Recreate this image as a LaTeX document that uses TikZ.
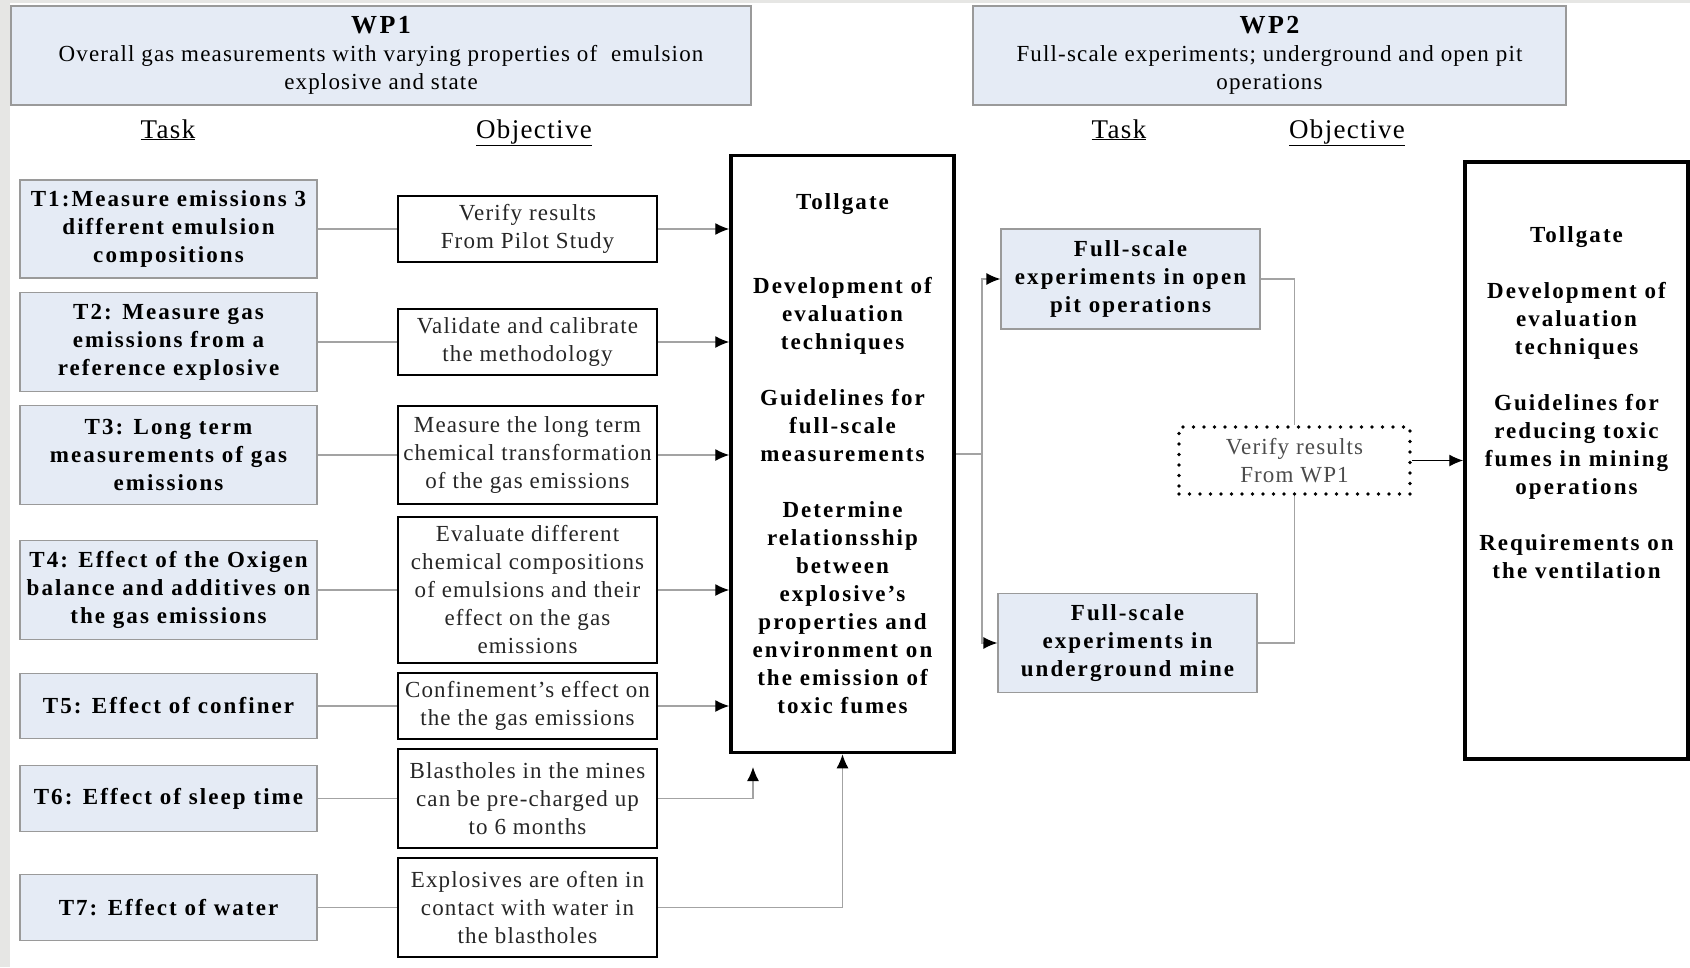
\documentclass[tikz,border=0pt]{standalone}
\usepackage{fontspec}
\setmainfont{Liberation Serif}[LetterSpace=5, BoldFeatures={LetterSpace=9}]
\usetikzlibrary{arrows.meta}

\definecolor{pagegray}{HTML}{E6E6E4}
\definecolor{boxfill}{HTML}{E5EBF5}
\definecolor{boxline}{HTML}{9A9A9A}
\definecolor{linkgray}{HTML}{A3A3A3}

\tikzset{
    base/.style={align=center, inner sep=0pt, font=\fontsize{23}{28}\selectfont},
    bluebox/.style={base, draw=boxline, fill=boxfill, line width=1.3pt},
    wphead/.style={bluebox, minimum width=#1, minimum height=99pt},
    taskbox/.style={bluebox, minimum width=297pt, font=\fontsize{23}{28}\selectfont\bfseries},
    fullbox/.style={bluebox, minimum width=259pt, minimum height=100pt, font=\fontsize{23}{28}\selectfont\bfseries},
    objbox/.style={base, draw, line width=2.4pt, minimum width=259pt, text=black!85},
    gatebox/.style={base, draw, line width=3.5pt, minimum width=223pt, minimum height=597pt,
        font=\fontsize{23}{28}\selectfont\bfseries},
    colhead/.style={base, anchor=base, font=\fontsize{27}{28}\selectfont},
    link/.style={draw=linkgray, line width=1.3pt},
    feed/.style={link, -{Latex[length=14pt, width=12pt, color=black]}},
}

\begin{document}
\begin{tikzpicture}[x=1pt, y=-1pt]

    \useasboundingbox (0,0) rectangle (1690,967);
    \fill[pagegray] (0,0) rectangle (1690,967);
    \fill[white] (10,3) rectangle (1690,967);

    % work packages
    \node[wphead=740pt] (wpone) at (381,55.5)
        {{\fontsize{26}{28}\selectfont\bfseries WP1}\\Overall gas measurements with varying properties of~ emulsion\\explosive and state};
    \node[wphead=593pt] (wptwo) at (1269.5,55.5)
        {{\fontsize{26}{28}\selectfont\bfseries WP2}\\Full-scale experiments; underground and open pit\\operations};

    \node[colhead] (taskone) at (168,138) {\underline{Task}};
    \node[colhead] (objone) at (534,138) {\underline{Objective}};
    \node[colhead] (tasktwo) at (1119,138) {\underline{Task}};
    \node[colhead] (objtwo) at (1347,138) {\underline{Objective}};

    % WP1 tasks
    \node[taskbox, minimum height=98pt] (t1) at (168.5,229) {T1:Measure emissions 3\\different emulsion\\compositions};
    \node[taskbox, minimum height=99pt] (t2) at (168.5,342) {T2: Measure gas\\emissions from a\\reference explosive};
    \node[taskbox, minimum height=99pt] (t3) at (168.5,455) {T3: Long term\\measurements of gas\\emissions};
    \node[taskbox, minimum height=99pt] (t4) at (168.5,590) {T4: Effect of the Oxigen\\balance and additives on\\the gas emissions};
    \node[taskbox, minimum height=65pt] (t5) at (168.5,706) {T5: Effect of confiner};
    \node[taskbox, minimum height=66pt] (t6) at (168.5,798.5) {T6: Effect of sleep time};
    \node[taskbox, minimum height=66pt] (t7) at (168.5,907.5) {T7: Effect of water};

    % WP1 objectives
    \node[objbox, minimum height=66pt] (o1) at (527.5,229) {Verify results\\From Pilot Study};
    \node[objbox, minimum height=66pt] (o2) at (527.5,342) {Validate and calibrate\\the methodology};
    \node[objbox, minimum height=98pt] (o3) at (527.5,455) {Measure the long term\\chemical transformation\\of the gas emissions};
    \node[objbox, minimum height=146pt] (o4) at (527.5,590) {Evaluate different\\chemical compositions\\of emulsions and their\\effect on the gas\\emissions};
    \node[objbox, minimum height=66pt] (o5) at (527.5,706) {Confinement’s effect on\\the the gas emissions};
    \node[objbox, minimum height=99pt] (o6) at (527.5,798.5) {Blastholes in the mines\\can be pre-charged up\\to 6 months};
    \node[objbox, minimum height=99pt] (o7) at (527.5,907.5) {Explosives are often in\\contact with water in\\the blastholes};

    \node[gatebox] (gateone) at (842.5,454)
        {Tollgate\\[56pt]Development of\\evaluation\\techniques\\[28pt]Guidelines for\\full-scale\\measurements\\[28pt]Determine\\relationsship\\between\\explosive’s\\properties and\\environment on\\the emission of\\toxic fumes};

    % WP2
    \node[fullbox] (openpit) at (1130.5,279) {Full-scale\\experiments in open\\pit operations};
    \node[fullbox, minimum height=99pt] (undergr) at (1127.5,643) {Full-scale\\experiments in\\underground mine};
    \node[base, draw, line width=3.6pt, dash pattern=on 0pt off 10.5pt, line cap=round,
          minimum width=231pt, minimum height=67pt, text=black!70] (verify) at (1294.5,460.5)
        {Verify results\\From WP1};
    \node[gatebox] (gatetwo) at (1576.5,460.5)
        {Tollgate\\[28pt]Development of\\evaluation\\techniques\\[28pt]Guidelines for\\reducing toxic\\fumes in mining\\operations\\[28pt]Requirements on\\the ventilation\\[80pt]\strut};

    % connectors
    \foreach \i in {1,...,7}
        \draw[link] (t\i.east) -- (o\i.west);
    \foreach \i in {1,...,5}
        \draw[feed] (o\i.east) -- (o\i.east -| gateone.west);

    \coordinate (sixtip) at (753,767);
    \draw[feed] (o6.east) -| (sixtip);
    \draw[feed] (o7.east) -| (gateone.south);

    \coordinate (split) at (982,454);
    \draw[link] (gateone.east) -- (split);
    \draw[feed] (split) |- (openpit.west);
    \draw[feed] (split) |- (undergr.west);

    \draw[link] (openpit.east) -| (verify.north);
    \draw[link] (undergr.east) -| (verify.south);
    \draw[line width=1.3pt, -{Latex[length=14pt, width=12pt]}] (verify.east) -- (verify.east -| gatetwo.west);

\end{tikzpicture}
\end{document}
